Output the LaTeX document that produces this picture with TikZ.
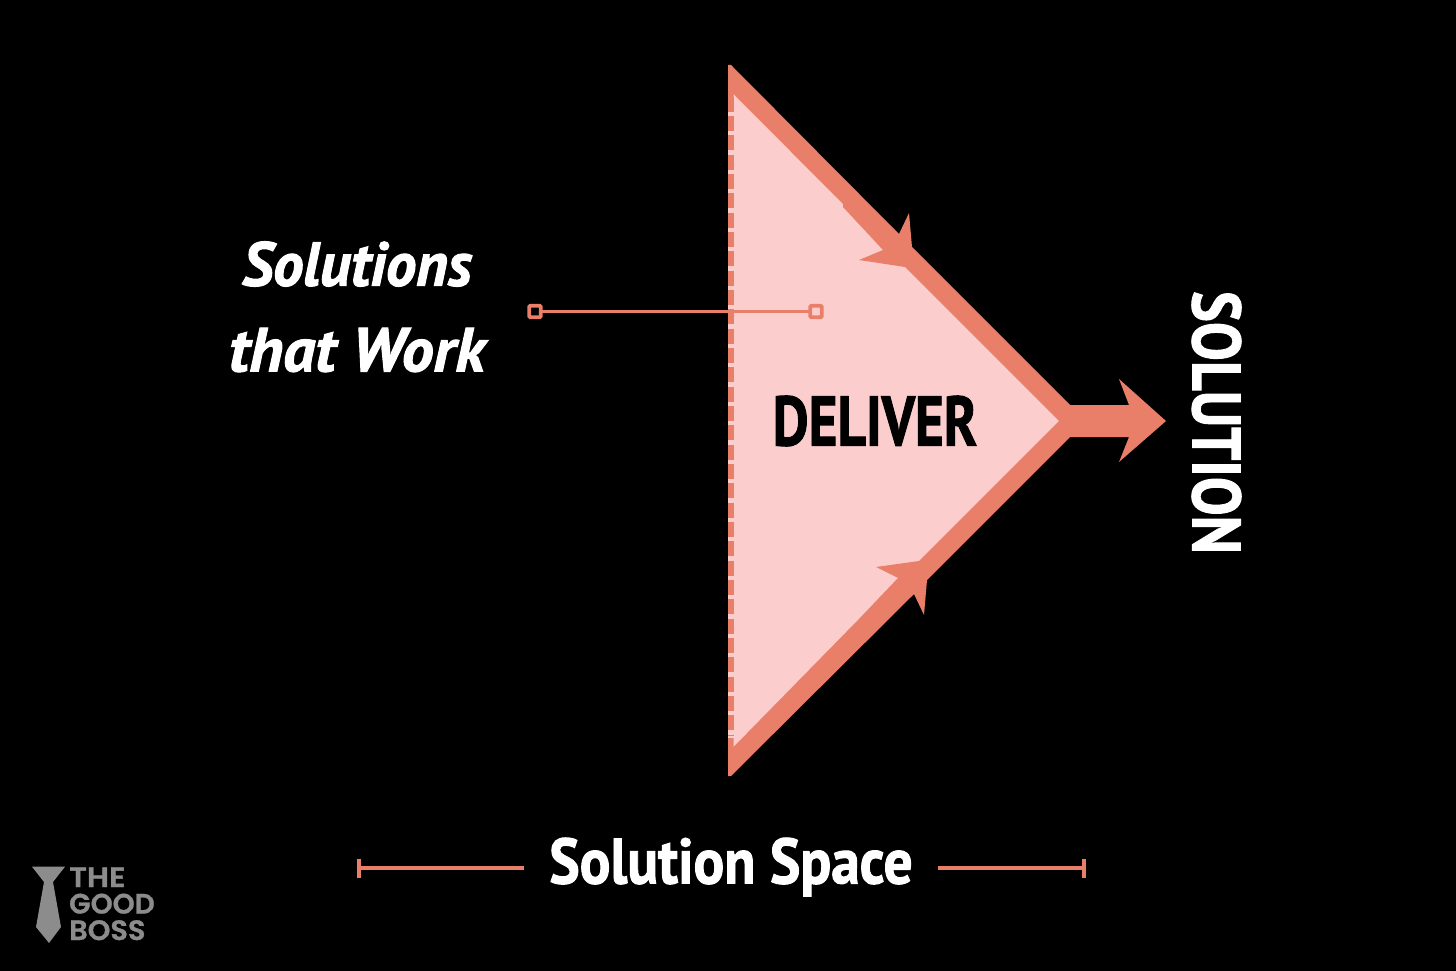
\documentclass[tikz,border=0pt]{standalone}
\usepackage{fontspec}
\setmainfont{PT Sans}[BoldFeatures={FakeBold=1.6},BoldItalicFeatures={FakeBold=1.6}]
\newfontfamily\logofont{Poppins SemiBold}[FakeBold=1]
\definecolor{salmon}{HTML}{EA7F69}
\definecolor{blush}{HTML}{FBCDCD}
\definecolor{logogrey}{HTML}{8C8C8C}
\tikzset{
  lbl/.style={text=white,font=\bfseries,inner sep=0pt,outer sep=0pt},
  mark box/.style={draw=salmon,line width=3.6pt,rounded corners=1pt,minimum size=11.5pt,inner sep=0pt,outer sep=0pt},
  leader/.style={draw=salmon,line width=3.2pt},
  span line/.style={draw=salmon,line width=4pt},
  logotext/.style={anchor=base west,inner sep=0pt,text=logogrey,font=\logofont\fontsize{28}{28}\selectfont}
}
\begin{document}
\begin{tikzpicture}[x=1pt,y=-1pt]
\useasboundingbox (0,0) rectangle (1456,971);
\fill[black] (0,0) rectangle (1456,971);
% pink body
\fill[blush] (728,80) -- (1069,421) -- (728,762) -- cycle;
% salmon triangle outline with arrows
\fill[salmon] (728,65) -- (731,65) -- (899,234) -- (909,213) -- (912,247) -- (1070,405) -- (1129,405)
  -- (1119,379) -- (1166,421) -- (1119,462) -- (1129,437) -- (1070,437) -- (927,580)
  -- (924,615) -- (914,594) -- (731,776) -- (728,776) -- (728,738) -- (733.5,738) -- (733.5,747)
  -- (858,620) -- (898,578) -- (876,567) -- (919,561) -- (1059,421) -- (905,267) -- (859,260)
  -- (883,250) -- (843,207) -- (843,204) -- (733.5,94) -- (733.5,97) -- (728,97) -- cycle;
% dashed open side
\coordinate (dashtop) at (730.75,96.7);
\coordinate (dashbot) at (730.75,735);
\draw[salmon,line width=5.5pt,dash pattern=on 15pt off 4.33pt] (dashtop) -- (dashbot);
% leader
\node[mark box,fill=black] (m1) at (535,311.5) {};
\node[mark box,fill=blush] (m2) at (816,311.5) {};
\draw[leader] (m1) -- (m2);
% labels
\node[lbl,font=\bfseries\itshape\fontsize{62}{62}\selectfont] (s1) at (357,264) {\scalebox{0.98}[1]{Solutions}};
\node[lbl,font=\bfseries\itshape\fontsize{62}{62}\selectfont] (s2) at (357,350) {\scalebox{1.03}[1]{that Work}};
\node[lbl,text=black,font=\bfseries\fontsize{70}{70}\selectfont] (d) at (875,421) {\scalebox{0.79}[1]{DELIVER}};
\node[lbl,font=\bfseries\fontsize{68}{68}\selectfont,rotate=-90] (sol) at (1216.5,422.5) {\scalebox{0.855}[1]{SOLUTION}};
\node[lbl,font=\bfseries\fontsize{64}{64}\selectfont] (space) at (731,867) {\scalebox{0.895}[1]{Solution Space}};
% span
\coordinate (sl) at (358.5,868);
\coordinate (sr) at (1083.5,868);
\draw[span line] (sl) -- (524,868);
\draw[span line] (938,868) -- (sr);
\draw[salmon,line width=4pt] (358.5,858.5) -- (358.5,877.5);
\draw[salmon,line width=4pt] (1083.5,858.5) -- (1083.5,877.5);
% logo
\fill[logogrey] (32,866.7) -- (65,866.7) -- (53,882) -- (61,927) -- (49,943) -- (36,927) -- (44,882) -- cycle;
\node[logotext] (l1) at (69,887) {\scalebox{1.1}[1]{THE}};
\node[logotext] (l2) at (69,913.5) {GOOD};
\node[logotext] (l3) at (69,940) {\scalebox{1.03}[1]{BOSS}};
\end{tikzpicture}
\end{document}
